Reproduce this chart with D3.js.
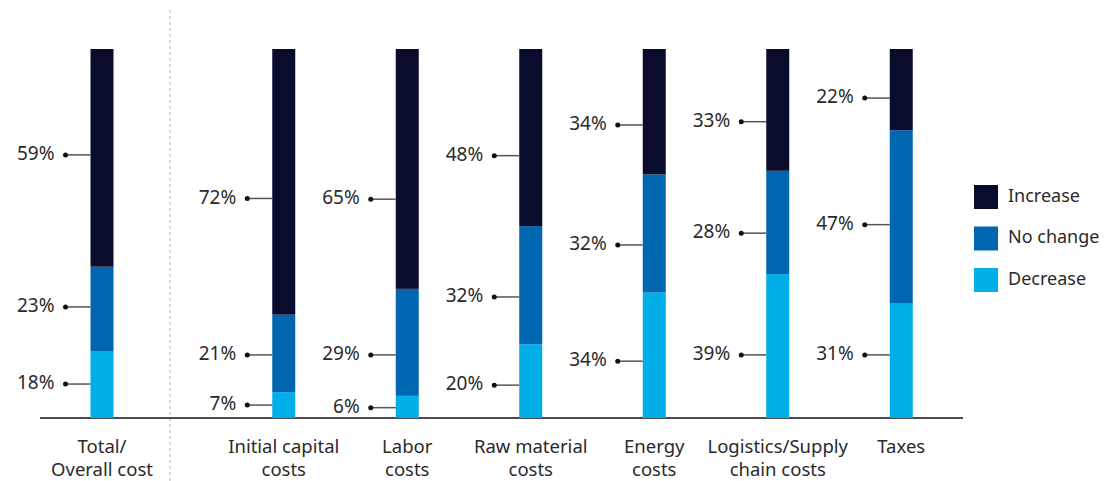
<!DOCTYPE html>
<html>
<head>
<meta charset="utf-8">
<script src="https://cdn.jsdelivr.net/npm/d3@7"></script>
<style>
body { margin: 0; background: #fff; }
text { font-family: "Noto Sans", sans-serif; fill: #2a2a2a; }
</style>
</head>
<body>
<svg id="chart" width="1106" height="481"></svg>
<script>
//
// Data
//
var totalCategory = ["Total/\nOverall cost"];
var costCategories = ["Initial capital\ncosts", "Labor\ncosts", "Raw material\ncosts", "Energy\ncosts", "Logistics/Supply\nchain costs", "Taxes"];
var seriesNames = ["Increase", "No change", "Decrease"];
var increase = [59, 72, 65, 48, 34, 33, 22];
var noChange = [23, 21, 29, 32, 32, 28, 47];
var decrease = [18, 7, 6, 20, 34, 39, 31];
// where each value label sits, in % from the bottom of the bar
var increaseLabelAt = [71.3, 59.5, 59.3, 71.1, 79.4, 80.3, 86.7];
var noChangeLabelAt = [30.1, 17.1, 17.1, 32.8, 46.9, 50.1, 52.4];
var decreaseLabelAt = [9.2, 3.5, 2.8, 8.9, 15.4, 17.1, 17.1];
var colors = ["#0a0c2e", "#0066b0", "#00aee8"];

var width = 1106, height = 481;
var svg = d3.select("#chart");

var y = d3.scaleLinear().domain([0, 100]).range([418, 49]);
var xLeft = d3.scaleBand().domain(totalCategory).range([40, 164]);
var xRight = d3.scaleBand().domain(costCategories).range([222, 963]);
var barW = 23;

function xCenter(i)
{
	if (i == 0) return xLeft(totalCategory[0]) + xLeft.bandwidth() / 2;
	var c = costCategories[i - 1];
	return xRight(c) + xRight.bandwidth() / 2;
}

var allCats = totalCategory.concat(costCategories);
var rows = allCats.map(function(c, i) {
	return {cat: c, i: i, "Increase": increase[i], "No change": noChange[i], "Decrease": decrease[i]};
});
// stack bottom-up: Decrease, No change, Increase
var stack = d3.stack().keys(["Decrease", "No change", "Increase"]);
var layers = stack(rows);
var labelAt = {"Increase": increaseLabelAt, "No change": noChangeLabelAt, "Decrease": decreaseLabelAt};

//
// Separator and baseline
//
svg.append("line")
	.attr("x1", 170).attr("x2", 170)
	.attr("y1", 10).attr("y2", height)
	.attr("stroke", "#cfcfcf")
	.attr("stroke-width", 1.5)
	.attr("stroke-dasharray", "3,3");

svg.append("line")
	.attr("x1", xLeft.range()[0]).attr("x2", xRight.range()[1])
	.attr("y1", y(0)).attr("y2", y(0))
	.attr("stroke", "#111")
	.attr("stroke-width", 1.5);

//
// Bars
//
layers.forEach(function(layer) {
	var key = layer.key;
	var color = colors[seriesNames.indexOf(key)];
	svg.append("g").selectAll("rect")
		.data(layer)
		.enter().append("rect")
		.attr("x", function(d, i) { return xCenter(i) - barW / 2; })
		.attr("width", barW)
		.attr("y", function(d) { return y(d[1]); })
		.attr("height", function(d) { return y(d[0]) - y(d[1]); })
		.attr("fill", color);
});

//
// Value labels with leaders
//
seriesNames.forEach(function(key) {
	var g = svg.append("g");
	rows.forEach(function(r, i) {
		var ly = y(labelAt[key][i]);
		var left = xCenter(i) - barW / 2;
		g.append("line")
			.attr("x1", left - 25).attr("x2", left)
			.attr("y1", ly).attr("y2", ly)
			.attr("stroke", "#555")
			.attr("stroke-width", 1.5);
		g.append("circle")
			.attr("cx", left - 25).attr("cy", ly)
			.attr("r", 2.5)
			.attr("fill", "#111");
		g.append("text")
			.attr("x", left - 36).attr("y", ly)
			.attr("text-anchor", "end")
			.attr("dominant-baseline", "middle")
			.attr("font-size", 19)
			.text(r[key] + "%");
	});
});

//
// Category labels
//
allCats.forEach(function(c, i) {
	var t = svg.append("text")
		.attr("x", xCenter(i))
		.attr("y", 453)
		.attr("text-anchor", "middle")
		.attr("font-size", 18.5);
	c.split("\n").forEach(function(line, k) {
		t.append("tspan")
			.attr("x", xCenter(i))
			.attr("dy", k == 0 ? 0 : 23)
			.text(line);
	});
});

//
// Legend
//
var legend = svg.append("g").attr("transform", "translate(974,185)");
seriesNames.forEach(function(name, k) {
	legend.append("rect")
		.attr("x", 0).attr("y", k * 41.5)
		.attr("width", 24).attr("height", 24)
		.attr("fill", colors[k]);
	legend.append("text")
		.attr("x", 34).attr("y", k * 41.5 + 12)
		.attr("dominant-baseline", "middle")
		.attr("font-size", 18)
		.text(name);
});
</script>
</body>
</html>
